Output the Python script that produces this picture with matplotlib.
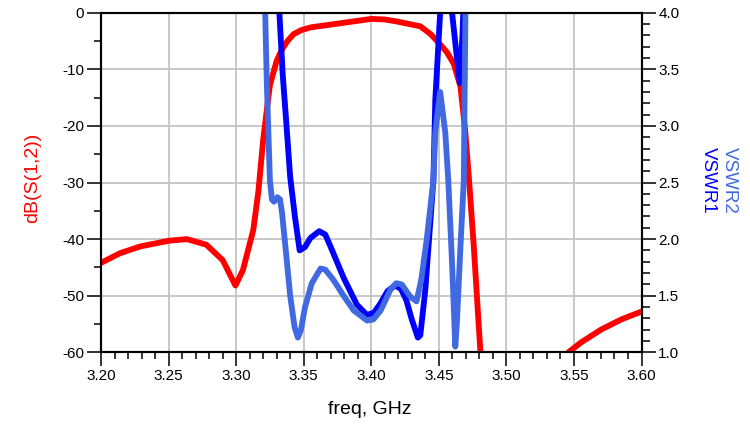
import numpy as np
import matplotlib
matplotlib.use("Agg")
import matplotlib.pyplot as plt
from matplotlib.ticker import MultipleLocator, FormatStrFormatter

plt.rcParams['font.family'] = ['Liberation Sans', 'DejaVu Sans']
plt.rcParams['axes.unicode_minus'] = False

# dB(S(1,2)) vs freq (GHz); points below -60 are clipped by the axis
freq_s12 = [3.200, 3.214, 3.229, 3.250, 3.2635, 3.278, 3.290, 3.2995, 3.305,
            3.3127, 3.3165, 3.320, 3.325, 3.330, 3.3325, 3.335, 3.338,
            3.3425, 3.348, 3.355, 3.370, 3.385, 3.400, 3.410, 3.420, 3.430,
            3.4363, 3.444, 3.451, 3.456, 3.461, 3.466, 3.4696, 3.4725,
            3.4758, 3.4807, 3.483, 3.515, 3.540, 3.5459, 3.555, 3.570,
            3.585, 3.600]
db_s12 = [-44.2, -42.5, -41.3, -40.3, -40.0, -41.0, -43.7, -48.2, -45.5,
          -38.4, -31.5, -22.5, -12.8, -8.5, -7.2, -6.1, -5.0,
          -3.8, -3.1, -2.6, -2.1, -1.6, -1.1, -1.2, -1.6, -2.1,
          -2.4, -3.8, -5.6, -7.0, -9.0, -13.0, -21.0, -30.0,
          -41.0, -59.6, -64.0, -75.0, -64.0, -60.0, -58.3, -56.0,
          -54.2, -52.8]

# VSWR1 (values above 4 are clipped)
freq_v1 = [3.330, 3.332, 3.3345, 3.337, 3.340, 3.3435, 3.347, 3.351, 3.355,
           3.3615, 3.366, 3.370, 3.3795, 3.3894, 3.3968, 3.402, 3.4067,
           3.412, 3.4175, 3.422, 3.426, 3.430, 3.4345, 3.4363, 3.440,
           3.446, 3.4474, 3.451, 3.455, 3.4598, 3.4625, 3.4655, 3.4675,
           3.469, 3.472]
vswr1 = [4.6, 4.0, 3.45, 3.05, 2.55, 2.2, 1.9, 1.93, 2.01,
         2.07, 2.04, 1.93, 1.66, 1.42, 1.33, 1.35, 1.43,
         1.54, 1.59, 1.56, 1.46, 1.29, 1.13, 1.15, 1.55,
         2.52, 3.23, 4.0, 5.0, 4.0, 3.7, 3.38, 3.8,
         4.3, 5.5]

# VSWR2
freq_v2 = [3.320, 3.3215, 3.3227, 3.325, 3.3265, 3.328, 3.3305, 3.3325,
           3.334, 3.3365, 3.340, 3.3433, 3.3457, 3.348, 3.351, 3.356,
           3.3625, 3.366, 3.372, 3.3795, 3.387, 3.397, 3.4015, 3.407,
           3.414, 3.4185, 3.4225, 3.429, 3.4335, 3.4370, 3.4411, 3.4460,
           3.4474, 3.4499, 3.451, 3.4548, 3.457, 3.4598, 3.4622, 3.4635,
           3.466, 3.4685, 3.4697, 3.471]
vswr2 = [4.6, 4.0, 3.38, 2.52, 2.35, 2.33, 2.37, 2.35,
         2.23, 1.93, 1.5, 1.22, 1.13, 1.2, 1.4, 1.61,
         1.74, 1.73, 1.64, 1.5, 1.37, 1.28, 1.29, 1.37,
         1.55, 1.61, 1.6, 1.49, 1.45, 1.64, 2.0, 2.52,
         2.94, 3.2, 3.30, 2.94, 2.52, 1.79, 1.05, 1.29,
         1.93, 2.52, 4.0, 4.8]

fig = plt.figure(figsize=(7.5, 4.3), dpi=100)
ax = fig.add_axes([101 / 750, 1 - 352.3 / 430, 540.5 / 750, 339.6 / 430])
ax2 = ax.twinx()

lw = 4.2
ax.plot(freq_s12, db_s12, color='#ff0000', lw=lw, zorder=3)
ax2.plot(freq_v1, vswr1, color='#0000ff', lw=lw)
ax2.plot(freq_v2, vswr2, color='#4169e1', lw=lw)

ax.set_xlim(3.20, 3.60)
ax.set_ylim(-60, 0)
ax2.set_ylim(1.0, 4.0)

ax.xaxis.set_major_locator(MultipleLocator(0.05))
ax.xaxis.set_minor_locator(MultipleLocator(0.01))
ax.xaxis.set_major_formatter(FormatStrFormatter('%.2f'))
ax.yaxis.set_major_locator(MultipleLocator(10))
ax.yaxis.set_minor_locator(MultipleLocator(5))
ax.yaxis.set_major_formatter(FormatStrFormatter('%d'))
ax2.yaxis.set_major_locator(MultipleLocator(0.5))
ax2.yaxis.set_minor_locator(MultipleLocator(0.1))
ax2.yaxis.set_major_formatter(FormatStrFormatter('%.1f'))

ax.grid(True, which='major', color='#c4c4c4', lw=1.3)
ax.set_axisbelow(True)

for a in (ax, ax2):
    a.tick_params(which='major', direction='out', length=10, width=1.1,
                  labelsize=11, pad=2)
    a.tick_params(which='minor', direction='out', length=5, width=1.1)
    for s in a.spines.values():
        s.set_linewidth(1.5)
ax2.tick_params(which='minor', length=6)

fig.text(33 / 750, 1 - 178 / 430, 'dB(S(1,2))', color='#ff0000', fontsize=14,
         rotation=90, ha='center', va='center')
fig.text(708 / 750, 1 - 180 / 430, 'VSWR1', color='#0000ff', fontsize=13.5,
         rotation=-90, ha='center', va='center')
fig.text(729 / 750, 1 - 180 / 430, 'VSWR2', color='#4169e1', fontsize=13.5,
         rotation=-90, ha='center', va='center')
fig.text(370 / 750, 1 - 410 / 430, 'freq, GHz', color='black', fontsize=14,
         ha='center', va='center')

fig.savefig('out.png', dpi=100)
